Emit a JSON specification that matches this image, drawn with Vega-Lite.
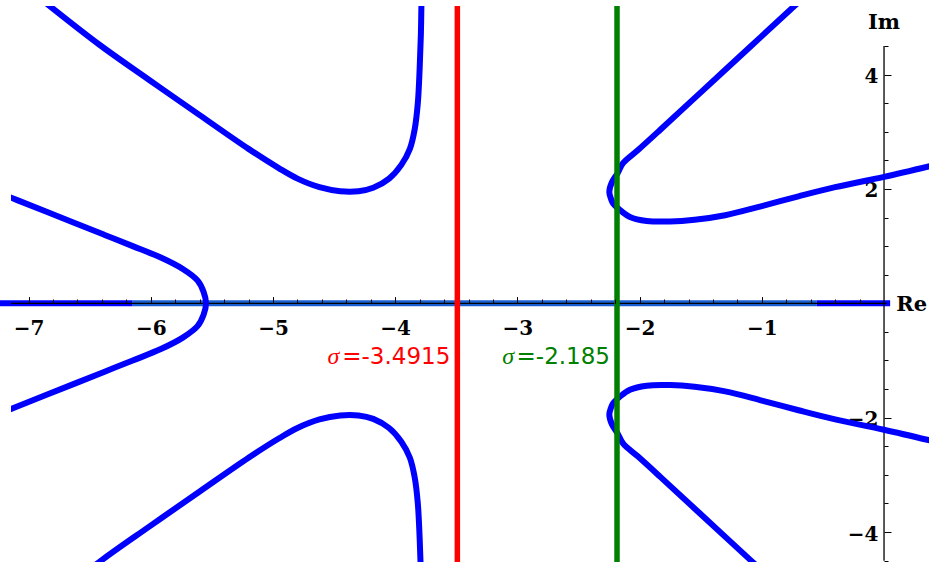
{
  "$schema": "https://vega.github.io/schema/vega-lite/v6.json",
  "width": 918,
  "height": 556,
  "autosize": {"type": "none"},
  "padding": {"left": 11, "top": 6, "right": 0, "bottom": 5},
  "background": "white",
  "config": {
    "view": {"stroke": null},
    "axis": {"grid": false, "domain": false, "title": null, "tickColor": "black", "tickWidth": 1}
  },
  "datasets": {
    "locus": [
      {"branch": "A+", "x": -6.87, "y": 5.27},
      {"branch": "A+", "x": -6.42, "y": 4.52},
      {"branch": "A+", "x": -6.01, "y": 3.9},
      {"branch": "A+", "x": -5.6, "y": 3.29},
      {"branch": "A+", "x": -5.2, "y": 2.7},
      {"branch": "A+", "x": -4.95, "y": 2.36},
      {"branch": "A+", "x": -4.8, "y": 2.18},
      {"branch": "A+", "x": -4.62, "y": 2.03},
      {"branch": "A+", "x": -4.45, "y": 1.96},
      {"branch": "A+", "x": -4.3, "y": 1.96},
      {"branch": "A+", "x": -4.18, "y": 2.02},
      {"branch": "A+", "x": -4.05, "y": 2.18},
      {"branch": "A+", "x": -3.95, "y": 2.42},
      {"branch": "A+", "x": -3.88, "y": 2.7},
      {"branch": "A+", "x": -3.84, "y": 3.05},
      {"branch": "A+", "x": -3.815, "y": 3.5},
      {"branch": "A+", "x": -3.8, "y": 4.1},
      {"branch": "A+", "x": -3.79, "y": 4.7},
      {"branch": "A+", "x": -3.785, "y": 5.3},
      {"branch": "A-", "x": -6.87, "y": -5.27},
      {"branch": "A-", "x": -6.42, "y": -4.52},
      {"branch": "A-", "x": -6.01, "y": -3.9},
      {"branch": "A-", "x": -5.6, "y": -3.29},
      {"branch": "A-", "x": -5.2, "y": -2.7},
      {"branch": "A-", "x": -4.95, "y": -2.36},
      {"branch": "A-", "x": -4.8, "y": -2.18},
      {"branch": "A-", "x": -4.62, "y": -2.03},
      {"branch": "A-", "x": -4.45, "y": -1.96},
      {"branch": "A-", "x": -4.3, "y": -1.96},
      {"branch": "A-", "x": -4.18, "y": -2.02},
      {"branch": "A-", "x": -4.05, "y": -2.18},
      {"branch": "A-", "x": -3.95, "y": -2.42},
      {"branch": "A-", "x": -3.88, "y": -2.7},
      {"branch": "A-", "x": -3.84, "y": -3.05},
      {"branch": "A-", "x": -3.815, "y": -3.5},
      {"branch": "A-", "x": -3.8, "y": -4.1},
      {"branch": "A-", "x": -3.79, "y": -4.7},
      {"branch": "A-", "x": -3.785, "y": -5.3},
      {"branch": "B", "x": -7.323, "y": 2.0},
      {"branch": "B", "x": -7.088, "y": 1.8},
      {"branch": "B", "x": -6.853, "y": 1.6},
      {"branch": "B", "x": -6.618, "y": 1.4},
      {"branch": "B", "x": -6.383, "y": 1.2},
      {"branch": "B", "x": -6.148, "y": 1.0},
      {"branch": "B", "x": -5.918, "y": 0.8},
      {"branch": "B", "x": -5.738, "y": 0.6},
      {"branch": "B", "x": -5.618, "y": 0.4},
      {"branch": "B", "x": -5.568, "y": 0.2},
      {"branch": "B", "x": -5.548, "y": 0.0},
      {"branch": "B", "x": -5.568, "y": -0.2},
      {"branch": "B", "x": -5.618, "y": -0.4},
      {"branch": "B", "x": -5.738, "y": -0.6},
      {"branch": "B", "x": -5.918, "y": -0.8},
      {"branch": "B", "x": -6.148, "y": -1.0},
      {"branch": "B", "x": -6.383, "y": -1.2},
      {"branch": "B", "x": -6.618, "y": -1.4},
      {"branch": "B", "x": -6.853, "y": -1.6},
      {"branch": "B", "x": -7.088, "y": -1.8},
      {"branch": "B", "x": -7.323, "y": -2.0},
      {"branch": "C+", "x": -0.68, "y": 5.3},
      {"branch": "C+", "x": -0.769, "y": 5.128},
      {"branch": "C+", "x": -1.097, "y": 4.481},
      {"branch": "C+", "x": -1.506, "y": 3.675},
      {"branch": "C+", "x": -1.833, "y": 3.03},
      {"branch": "C+", "x": -2.013, "y": 2.68},
      {"branch": "C+", "x": -2.136, "y": 2.45},
      {"branch": "C+", "x": -2.179, "y": 2.28},
      {"branch": "C+", "x": -2.226, "y": 2.12},
      {"branch": "C+", "x": -2.248, "y": 1.95},
      {"branch": "C+", "x": -2.235, "y": 1.83},
      {"branch": "C+", "x": -2.218, "y": 1.75},
      {"branch": "C+", "x": -2.16, "y": 1.63},
      {"branch": "C+", "x": -2.079, "y": 1.51},
      {"branch": "C+", "x": -1.942, "y": 1.44},
      {"branch": "C+", "x": -1.75, "y": 1.43},
      {"branch": "C+", "x": -1.55, "y": 1.46},
      {"branch": "C+", "x": -1.3, "y": 1.54},
      {"branch": "C+", "x": -1.0, "y": 1.7},
      {"branch": "C+", "x": -0.7, "y": 1.87},
      {"branch": "C+", "x": -0.4, "y": 2.03},
      {"branch": "C+", "x": 0.0, "y": 2.21},
      {"branch": "C+", "x": 0.4, "y": 2.41},
      {"branch": "C-", "x": -0.68, "y": -5.3},
      {"branch": "C-", "x": -0.769, "y": -5.128},
      {"branch": "C-", "x": -1.097, "y": -4.481},
      {"branch": "C-", "x": -1.506, "y": -3.675},
      {"branch": "C-", "x": -1.833, "y": -3.03},
      {"branch": "C-", "x": -2.013, "y": -2.68},
      {"branch": "C-", "x": -2.136, "y": -2.45},
      {"branch": "C-", "x": -2.179, "y": -2.28},
      {"branch": "C-", "x": -2.226, "y": -2.12},
      {"branch": "C-", "x": -2.248, "y": -1.95},
      {"branch": "C-", "x": -2.235, "y": -1.83},
      {"branch": "C-", "x": -2.218, "y": -1.75},
      {"branch": "C-", "x": -2.16, "y": -1.63},
      {"branch": "C-", "x": -2.079, "y": -1.51},
      {"branch": "C-", "x": -1.942, "y": -1.44},
      {"branch": "C-", "x": -1.75, "y": -1.43},
      {"branch": "C-", "x": -1.55, "y": -1.46},
      {"branch": "C-", "x": -1.3, "y": -1.54},
      {"branch": "C-", "x": -1.0, "y": -1.7},
      {"branch": "C-", "x": -0.7, "y": -1.87},
      {"branch": "C-", "x": -0.4, "y": -2.03},
      {"branch": "C-", "x": 0.0, "y": -2.21},
      {"branch": "C-", "x": 0.4, "y": -2.41}
    ],
    "realAxis": [
      {"from": -7.3, "to": -6.148, "part": "outer"},
      {"from": -6.148, "to": -0.55, "part": "inner"},
      {"from": -0.55, "to": 0.05, "part": "outer"}
    ],
    "frame": [
      {"x": -7.3, "x2": 0.022, "y": 0, "y2": 0},
      {"x": 0, "x2": 0, "y": -4.5, "y2": 4.5}
    ],
    "roots": [
      {"sigma": -3.4915, "label": "=-3.4915", "root": "first"},
      {"sigma": -2.185, "label": "=-2.185", "root": "second"}
    ],
    "names": [
      {"x": 0.1, "y": -0.037, "text": "Re"},
      {"x": -0.131, "y": 4.893, "text": "Im"}
    ]
  },
  "layer": [
    {
      "data": {"name": "realAxis"},
      "mark": {"type": "rule", "strokeWidth": 6},
      "encoding": {
        "x": {
          "field": "from", "type": "quantitative",
          "scale": {"domain": [-7.144, 0.368], "nice": false, "zero": false},
          "axis": {
            "orient": "bottom", "offset": -258.7, "zindex": 1,
            "values": [-7, -6, -5, -4, -3, -2, -1],
            "tickSize": -6.7, "labelPadding": 21.6,
            "labelFont": "DejaVu Serif", "labelFontWeight": "bold",
            "labelFontSize": 20, "labelColor": "black"
          }
        },
        "x2": {"field": "to"},
        "y": {
          "datum": 0, "type": "quantitative",
          "scale": {"domain": [-4.523, 5.198], "nice": false, "zero": false},
          "axis": {
            "orient": "left", "offset": -873,
            "values": [-4, -2, 2, 4],
            "tickSize": -7, "labelPadding": 13, "labelOffset": 2,
            "labelFont": "DejaVu Serif", "labelFontWeight": "bold",
            "labelFontSize": 20, "labelColor": "black"
          }
        },
        "color": {
          "field": "part", "type": "nominal",
          "scale": {"domain": ["outer", "inner"], "range": ["#0000ff", "#1a5fd2"]},
          "legend": null
        }
      }
    },
    {
      "data": {"name": "frame"},
      "mark": {"type": "rule", "color": "black", "strokeWidth": 1.3, "clip": true},
      "encoding": {
        "x": {
          "field": "x", "type": "quantitative",
          "axis": {
            "orient": "bottom", "offset": -258.7, "zindex": 1, "labels": false, "tickSize": -4.3,
            "values": [-6.8, -6.6, -6.4, -6.2, -5.8, -5.6, -5.4, -5.2, -4.8, -4.6, -4.4, -4.2, -3.8, -3.6, -3.4, -3.2, -2.8, -2.6, -2.4, -2.2, -1.8, -1.6, -1.4, -1.2, -0.8, -0.6, -0.4, -0.2]
          }
        },
        "x2": {"field": "x2"},
        "y": {
          "field": "y", "type": "quantitative",
          "axis": {
            "orient": "left", "offset": -873, "labels": false, "tickSize": -4,
            "values": [-4.5, -3.5, -3, -2.5, -1.5, -1, -0.5, 0.5, 1, 1.5, 2.5, 3, 3.5, 4.5]
          }
        },
        "y2": {"field": "y2"}
      }
    },
    {
      "data": {"name": "locus"},
      "mark": {"type": "line", "color": "#0000ff", "strokeWidth": 6, "interpolate": "catmull-rom", "strokeJoin": "round", "strokeCap": "round", "clip": true},
      "encoding": {
        "x": {"field": "x", "type": "quantitative", "axis": null},
        "y": {"field": "y", "type": "quantitative", "axis": null},
        "detail": {"field": "branch", "type": "nominal"},
        "order": {"value": null}
      }
    },
    {
      "data": {"name": "roots"},
      "mark": {"type": "rule", "strokeWidth": 5.5},
      "encoding": {
        "x": {"field": "sigma", "type": "quantitative", "axis": null},
        "color": {
          "field": "root", "type": "nominal",
          "scale": {"domain": ["first", "second"], "range": ["#ff0000", "#008000"]},
          "legend": null
        }
      }
    },
    {
      "data": {"name": "roots"},
      "mark": {"type": "text", "align": "right", "baseline": "alphabetic", "dx": -7, "font": "DejaVu Sans", "fontSize": 23},
      "encoding": {
        "x": {"field": "sigma", "type": "quantitative", "axis": null},
        "y": {"datum": -1.066, "type": "quantitative", "axis": null},
        "text": {"field": "label"},
        "color": {
          "field": "root", "type": "nominal",
          "scale": {"domain": ["first", "second"], "range": ["#ff0000", "#008000"]},
          "legend": null
        }
      }
    },
    {
      "data": {"name": "roots"},
      "transform": [{"filter": "datum.root === 'first'"}],
      "mark": {"type": "text", "align": "right", "baseline": "alphabetic", "dx": -118, "font": "Liberation Serif", "fontStyle": "italic", "fontSize": 24, "color": "#ff0000", "text": "σ"},
      "encoding": {
        "x": {"field": "sigma", "type": "quantitative", "axis": null},
        "y": {"datum": -1.066, "type": "quantitative", "axis": null}
      }
    },
    {
      "data": {"name": "roots"},
      "transform": [{"filter": "datum.root === 'second'"}],
      "mark": {"type": "text", "align": "right", "baseline": "alphabetic", "dx": -103, "font": "Liberation Serif", "fontStyle": "italic", "fontSize": 24, "color": "#008000", "text": "σ"},
      "encoding": {
        "x": {"field": "sigma", "type": "quantitative", "axis": null},
        "y": {"datum": -1.066, "type": "quantitative", "axis": null}
      }
    },
    {
      "data": {"name": "names"},
      "mark": {"type": "text", "align": "left", "baseline": "middle", "font": "DejaVu Serif", "fontWeight": "bold", "fontSize": 21, "color": "black"},
      "encoding": {
        "x": {"field": "x", "type": "quantitative", "axis": null},
        "y": {"field": "y", "type": "quantitative", "axis": null},
        "text": {"field": "text"}
      }
    }
  ],
  "resolve": {
    "scale": {"color": "independent"},
    "axis": {"x": "independent", "y": "independent"}
  }
}
